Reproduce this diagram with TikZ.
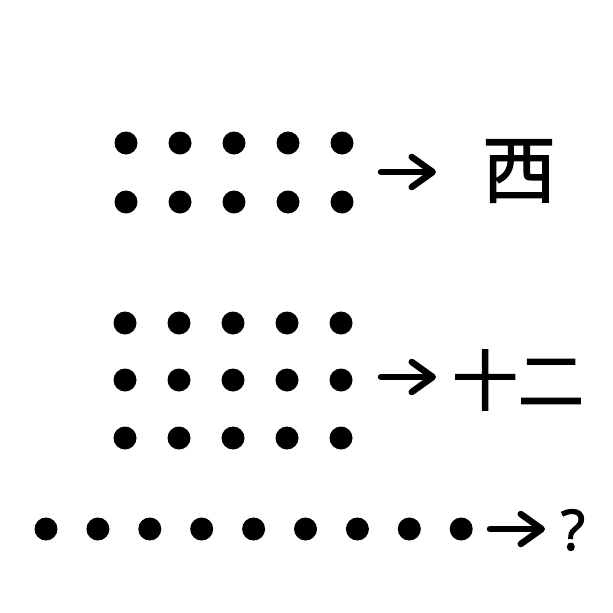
\documentclass[tikz,border=0pt]{standalone}
\usepackage{fontspec}
\newfontfamily\cjkfont{Noto Sans CJK SC}[FakeBold=1.6]
\newfontfamily\askfont{Noto Sans}[FakeBold=1.6]
\usetikzlibrary{arrows.meta}

\tikzset{
  pointer/.style={line width=6.5pt, line cap=round,
    -{Straight Barb[length=21pt,width=30pt,line cap=round,line join=round]}},
  bigglyph/.style={font=\cjkfont\fontsize{74}{74}\selectfont, inner sep=0pt},
  midglyph/.style={font=\cjkfont\fontsize{66}{66}\selectfont, inner sep=0pt},
  qglyph/.style={font=\askfont\fontsize{56}{56}\selectfont, inner sep=0pt},
}

\begin{document}
\begin{tikzpicture}[x=1pt,y=-1pt]
  \useasboundingbox (0,0) rectangle (613,613);

  % two rows of five
  \foreach \i in {0,...,4}
    \foreach \yy in {143,202}
      \fill (126+54*\i,\yy) circle (11.5pt);
  \coordinate (s1) at (381,172);
  \coordinate (e1) at (436,172);
  \node[bigglyph] (west) at (519,171) {西};
  \draw[pointer] (s1) -- (e1);

  % three rows of five
  \foreach \i in {0,...,4}
    \foreach \yy in {323,380,438}
      \fill (125+54*\i,\yy) circle (11.5pt);
  \coordinate (s2) at (381,377);
  \coordinate (e2) at (436,377);
  \node[midglyph] (twelve) at (518,380) {十二};
  \draw[pointer] (s2) -- (e2);

  % one row of nine
  \foreach \i in {0,...,8}
    \fill (46+51.9*\i,529) circle (11.5pt);
  \coordinate (s3) at (490,529);
  \coordinate (e3) at (545,529);
  \node[qglyph] (ask) at (573,530) {?};
  \draw[pointer] (s3) -- (e3);
\end{tikzpicture}
\end{document}
